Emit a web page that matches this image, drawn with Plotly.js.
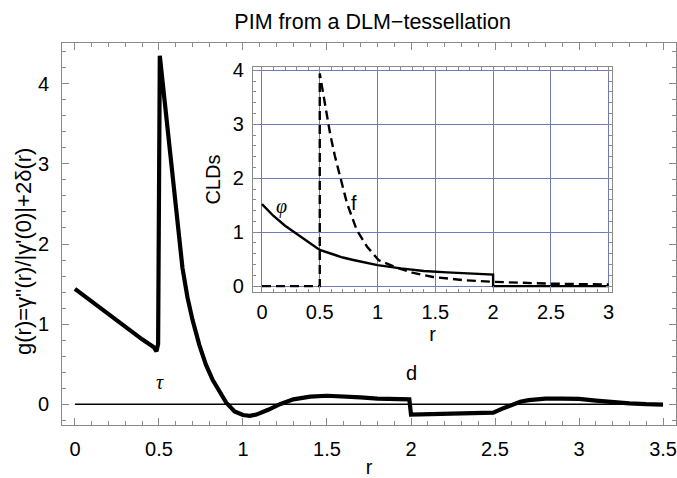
<!DOCTYPE html>
<html>
<head>
<meta charset="utf-8">
<script src="https://cdn.plot.ly/plotly-3.0.1.min.js"></script>
<style>html,body{margin:0;padding:0;background:#fff;}</style>
</head>
<body>
<div id="chart" style="width:677px;height:478px;"></div>
<script>
// ---- Main plot: g(r) ----
const gR = [0, 0.1, 0.2, 0.3, 0.4, 0.45, 0.47, 0.485, 0.495, 0.505, 0.52, 0.54, 0.56, 0.58, 0.60, 0.62, 0.64, 0.67, 0.70, 0.74, 0.78, 0.82, 0.86, 0.90, 0.95, 1.0, 1.04, 1.08, 1.15, 1.22, 1.3, 1.4, 1.5, 1.6, 1.7, 1.8, 1.9, 1.99, 2.0, 2.1, 2.3, 2.49, 2.55, 2.6, 2.65, 2.7, 2.8, 2.9, 3.0, 3.1, 3.2, 3.3, 3.4, 3.5];
const gVal = [1.44, 1.28, 1.13, 0.97, 0.81, 0.74, 0.71, 0.66, 0.75, 4.35, 4.05, 3.70, 3.28, 2.83, 2.41, 2.03, 1.70, 1.33, 1.05, 0.74, 0.49, 0.30, 0.15, 0.02, -0.09, -0.135, -0.145, -0.13, -0.07, 0.0, 0.06, 0.095, 0.105, 0.10, 0.085, 0.07, 0.06, 0.06, -0.13, -0.125, -0.115, -0.105, -0.05, -0.01, 0.03, 0.05, 0.07, 0.07, 0.065, 0.045, 0.025, 0.01, 0.0, -0.005];
const zeroX = [0, 3.5];
const zeroY = [0, 0];

// ---- Inset: CLDs ----
const phiR = [0, 0.1, 0.2, 0.3, 0.4, 0.5, 0.6, 0.7, 0.8, 0.9, 1.0, 1.2, 1.4, 1.6, 1.8, 2.0, 2.0, 3.0];
const phiVal = [1.52, 1.30, 1.12, 0.97, 0.82, 0.67, 0.60, 0.53, 0.48, 0.43, 0.39, 0.33, 0.28, 0.255, 0.235, 0.215, 0.0, 0.0];
const fR = [0, 0.5, 0.5, 0.53, 0.56, 0.59, 0.63, 0.68, 0.735, 0.82, 0.91, 1.01, 1.17, 1.3, 1.48, 1.75, 2.0, 2.5, 3.0];
const fVal = [0, 0, 3.94, 3.55, 3.15, 2.82, 2.42, 2.02, 1.54, 1.04, 0.73, 0.48, 0.34, 0.25, 0.17, 0.11, 0.08, 0.045, 0.03];

const xTicksMain = [0, 0.5, 1, 1.5, 2, 2.5, 3, 3.5];
const yTicksMain = [0, 1, 2, 3, 4];
const xTicksInset = [0, 0.5, 1, 1.5, 2, 2.5, 3];
const yTicksInset = [0, 1, 2, 3, 4];

const FONT = 'Liberation Sans, Arial, sans-serif';
const frameCol = '#8a8a8a';
const gridCol = 'rgb(110,122,185)';

const traces = [
  {x: zeroX, y: zeroY, type: 'scatter', mode: 'lines', line: {color: '#000', width: 1.6}, xaxis: 'x', yaxis: 'y', hoverinfo: 'skip'},
  {x: gR, y: gVal, type: 'scatter', mode: 'lines', line: {color: '#000', width: 4.2}, xaxis: 'x', yaxis: 'y'},
  {x: phiR, y: phiVal, type: 'scatter', mode: 'lines', line: {color: '#000', width: 2.4}, xaxis: 'x2', yaxis: 'y2'},
  {x: fR, y: fVal, type: 'scatter', mode: 'lines', line: {color: '#000', width: 2.4, dash: '9px,5px'}, xaxis: 'x2', yaxis: 'y2'}
];

function axisBase(extra) {
  return Object.assign({
    showline: true, linecolor: frameCol, linewidth: 1, mirror: 'ticks',
    ticks: 'inside', ticklen: 7, tickwidth: 1, tickcolor: frameCol,
    showgrid: false, zeroline: false,
    tickfont: {family: FONT, size: 20, color: '#000'}
  }, extra);
}

const layout = {
  width: 677, height: 478,
  margin: {l: 62, r: 1, t: 43, b: 53},
  paper_bgcolor: '#fff', plot_bgcolor: '#fff',
  showlegend: false,
  title: {text: 'PIM from a DLM\u2212tessellation', font: {family: FONT, size: 21.5, color: '#000'},
          x: 0.506, xref: 'paper', xanchor: 'center', y: 1 - 21 / 478, yref: 'container', yanchor: 'middle'},
  xaxis: axisBase({range: [-0.077, 3.577], tickmode: 'array', tickvals: xTicksMain, ticktext: xTicksMain.map(String),
    minor: {dtick: 0.1, tick0: 0, ticks: 'inside', ticklen: 4, tickcolor: frameCol},
    ticklabelstandoff: 6,
    title: {text: 'r', font: {family: FONT, size: 20, color: '#000'}, standoff: 4}}),
  yaxis: axisBase({range: [-0.26, 4.51], tickmode: 'array', tickvals: yTicksMain, ticktext: yTicksMain.map(String),
    minor: {dtick: 0.2, tick0: 0, ticks: 'inside', ticklen: 4, tickcolor: frameCol},
    ticklabelstandoff: 8}),
  xaxis2: axisBase({domain: [0.311, 0.896], anchor: 'y2', range: [-0.078, 3.03], tickmode: 'array', tickvals: xTicksInset, ticktext: xTicksInset.map(String),
    showgrid: true, gridcolor: gridCol, gridwidth: 1, ticklen: 6,
    minor: {dtick: 0.1, tick0: 0, ticks: 'inside', ticklen: 3, tickcolor: frameCol},
    ticklabelstandoff: 2,
    title: {text: 'r', font: {family: FONT, size: 20, color: '#000'}, standoff: 0}}),
  yaxis2: axisBase({domain: [0.348, 0.937], anchor: 'x2', range: [-0.11, 4.06], tickmode: 'array', tickvals: yTicksInset, ticktext: yTicksInset.map(String),
    showgrid: true, gridcolor: gridCol, gridwidth: 1, ticklen: 6,
    minor: {dtick: 0.2, tick0: 0, ticks: 'inside', ticklen: 3, tickcolor: frameCol},
    ticklabelstandoff: 4,
    title: {text: 'CLDs', font: {family: FONT, size: 20, color: '#000'}, standoff: 6}}),
  annotations: [
    {text: "g(r)=\u03b3''(r)/|\u03b3'(0)|+2\u03b4(r)", xref: 'paper', yref: 'paper', x: (23 - 62) / 614, y: (425 - 252) / 382,
     textangle: -90, showarrow: false, font: {family: FONT, size: 22, color: '#000'}, xanchor: 'center', yanchor: 'middle'},
    {text: '<i>\u03c4</i>', xref: 'x', yref: 'y', x: 0.506, y: 0.275, showarrow: false, font: {family: 'Liberation Serif, serif', size: 20, color: '#000'}},
    {text: 'd', xref: 'x', yref: 'y', x: 2.0, y: 0.39, showarrow: false, font: {family: FONT, size: 20, color: '#000'}},
    {text: '<i>\u03c6</i>', xref: 'x2', yref: 'y2', x: 0.17, y: 1.48, showarrow: false, font: {family: 'Liberation Serif, serif', size: 20, color: '#000'}},
    {text: 'f', xref: 'x2', yref: 'y2', x: 0.8, y: 1.54, showarrow: false, font: {family: FONT, size: 20, color: '#000'}}
  ]
};

Plotly.newPlot('chart', traces, layout, {displayModeBar: false, staticPlot: true});
</script>
</body>
</html>
